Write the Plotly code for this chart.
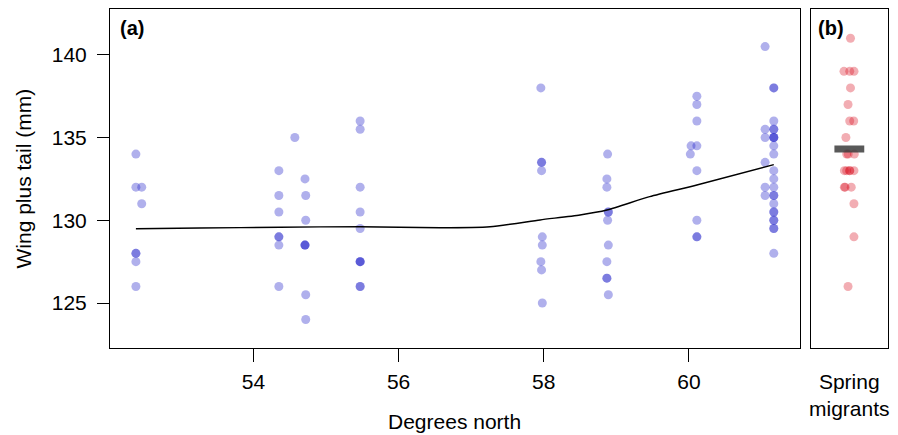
import plotly.graph_objects as go

# ---------------- data ----------------
# Panel (a): latitude (with small horizontal offsets as drawn) and wing+tail (mm)
lat_a = [
    52.38, 52.38, 52.46, 52.46, 52.38, 52.38, 52.38, 52.38,
    54.35, 54.35, 54.35, 54.35, 54.35, 54.35, 54.35,
    54.57,
    54.71, 54.72, 54.72, 54.71, 54.71, 54.71, 54.72, 54.72,
    55.47, 55.47, 55.47, 55.47, 55.47, 55.47, 55.47, 55.47, 55.47, 55.47,
    57.96, 57.97, 57.97, 57.97, 57.98, 57.98, 57.96, 57.97, 57.98,
    58.88, 58.87, 58.87, 58.89, 58.89, 58.88, 58.89, 58.87, 58.87, 58.87, 58.89,
    60.11, 60.11, 60.11, 60.03, 60.11, 60.02, 60.11, 60.11, 60.11, 60.11,
    61.05, 61.17, 61.17, 61.17, 61.05, 61.17, 61.17, 61.05, 61.17, 61.17, 61.17,
    61.17, 61.17, 61.05, 61.17, 61.17, 61.17, 61.05, 61.05, 61.17, 61.17, 61.17,
    61.17, 61.17, 61.17, 61.17, 61.17, 61.17, 61.17,
]
size_a = [
    134, 132, 132, 131, 128, 128, 127.5, 126,
    133, 131.5, 130.5, 129, 129, 128.5, 126,
    135,
    132.5, 131.5, 130, 128.5, 128.5, 128.5, 125.5, 124,
    136, 135.5, 132, 130.5, 129.5, 127.5, 127.5, 127.5, 126, 126,
    138, 133.5, 133.5, 133, 129, 128.5, 127.5, 127, 125,
    134, 132.5, 132, 130.5, 130.5, 130, 128.5, 127.5, 126.5, 126.5, 125.5,
    137.5, 137, 136, 134.5, 134.5, 134, 133, 130, 129, 129,
    140.5, 138, 138, 136, 135.5, 135.5, 135.5, 135, 135, 135, 135,
    134.5, 134, 133.5, 133, 132.5, 132, 132, 131.5, 131.5, 131.5, 131,
    130.5, 130.5, 130, 130, 129.5, 129.5, 128,
]

# smoothed trend line
fit_lat = [52.38, 53.26, 54.37, 55.47, 56.57, 57.26, 57.95, 58.50, 58.87, 59.46, 60.11, 61.17]
fit_val = [129.49, 129.53, 129.58, 129.61, 129.55, 129.61, 130.02, 130.32, 130.62, 131.43, 132.13, 133.36]

# Panel (b): spring migrants (horizontal position within the strip, value)
pos_b = [1.01, 0.925, 1.0, 1.056, 1.01, 0.978, 1.0, 1.052, 0.95,
         0.96, 0.98, 1.06, 0.93, 0.96, 1.0, 1.0, 1.055, 0.93, 0.94, 1.02,
         1.055, 1.055, 0.978]
size_b = [141, 139, 139, 139, 138, 137, 136, 136, 135,
          134, 134, 134, 133, 133, 133, 133, 133, 132, 132, 132,
          131, 129, 126]

x_ticks = [54, 56, 58, 60]
y_ticks = [125, 130, 135, 140]

mean_b = sum(size_b) / len(size_b)

FONT = "Liberation Sans, Arial, sans-serif"

fig = go.Figure()

fig.add_trace(go.Scatter(
    x=lat_a, y=size_a, mode="markers", xaxis="x", yaxis="y",
    marker=dict(size=9, color="rgba(30,30,200,0.35)", line=dict(width=0)),
    hoverinfo="skip", showlegend=False))

fig.add_trace(go.Scatter(
    x=fit_lat, y=fit_val, mode="lines", xaxis="x", yaxis="y",
    line=dict(color="black", width=1.4, shape="spline", smoothing=0.6),
    hoverinfo="skip", showlegend=False))

fig.add_trace(go.Scatter(
    x=pos_b, y=size_b, mode="markers", xaxis="x2", yaxis="y2",
    marker=dict(size=9, color="rgba(215,0,20,0.32)", line=dict(width=0)),
    hoverinfo="skip", showlegend=False))

fig.add_trace(go.Scatter(
    x=[0.8, 1.19], y=[mean_b, mean_b], mode="lines", xaxis="x2", yaxis="y2",
    line=dict(color="rgba(60,60,60,0.85)", width=7),
    hoverinfo="skip", showlegend=False))

axis_common = dict(showline=True, mirror=True, linecolor="black", linewidth=1,
                   showgrid=False, zeroline=False)

# page body has an 8px margin: figure is sized/offset to compensate
fig.update_layout(
    width=890, height=427,
    margin=dict(l=102, r=9.7, t=1, b=87),
    paper_bgcolor="white", plot_bgcolor="white",
    font=dict(family=FONT, size=21, color="black"),
    xaxis=dict(domain=[0, 0.8866], range=[52.023, 61.528],
               tickvals=x_ticks, ticks="outside", ticklen=13, tickcolor="black",
               ticklabelstandoff=2,
               tickfont=dict(size=21), **axis_common),
    yaxis=dict(domain=[0, 1], range=[122.28, 142.77], anchor="x",
               tickvals=y_ticks, ticks="outside", ticklen=12, tickcolor="black",
               ticklabelstandoff=6,
               tickfont=dict(size=21), **axis_common),
    xaxis2=dict(domain=[0.9016, 1], range=[0.5, 1.5], anchor="y2",
                showticklabels=False, ticks="", **axis_common),
    yaxis2=dict(domain=[0, 1], range=[122.28, 142.77], anchor="x2",
                matches="y", showticklabels=False, ticks="", **axis_common),
)

ann = [
    dict(text="<b>(a)</b>", xref="x domain", yref="paper", x=0, y=1,
         xanchor="left", yanchor="top", xshift=8, yshift=-6, font=dict(size=20)),
    dict(text="<b>(b)</b>", xref="x2 domain", yref="paper", x=0, y=1,
         xanchor="left", yanchor="top", xshift=5, yshift=-6, font=dict(size=20)),
    dict(text="Degrees north", xref="x domain", yref="paper", x=0.5, y=0,
         xanchor="center", yanchor="middle", yshift=-73, font=dict(size=21)),
    dict(text="Spring<br>migrants", xref="x2 domain", yref="paper", x=0.5, y=0,
         xanchor="center", yanchor="middle", yshift=-47, font=dict(size=21)),
    dict(text="Wing plus tail (mm)", xref="paper", yref="paper", x=0, y=0.5,
         xanchor="center", yanchor="middle", xshift=-87, textangle=-90,
         font=dict(size=21)),
]
fig.update_layout(annotations=[dict(showarrow=False, **a) for a in ann])

fig.write_html("out.html")
